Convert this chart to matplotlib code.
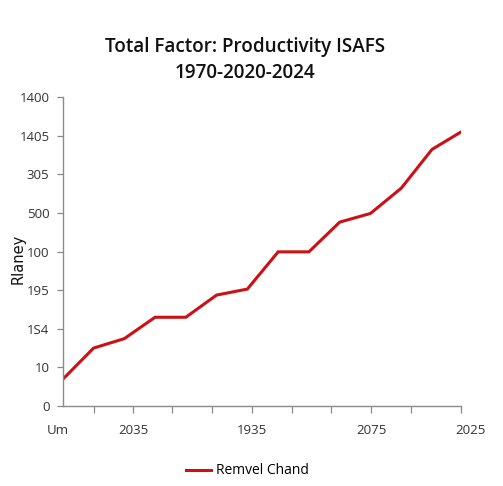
import matplotlib
matplotlib.use("Agg")
import matplotlib.pyplot as plt

# data
x_pos = list(range(14))
values = [13.8, 30.0, 34.9, 46.0, 46.0, 57.5, 60.6, 79.9, 79.9, 95.3, 99.8, 112.9, 133.0, 142.6]

y_ticks = [0, 20, 40, 60, 80, 100, 120, 140, 160]
y_labels = ["0", "10", "1S4", "195", "100", "500", "305", "1405", "1400"]

x_tick_marks = [1.01, 2.29, 3.56, 4.85, 6.14, 7.44, 8.72, 10.02, 11.33, 12.95]
x_label_pos = [-0.15, 2.29, 6.14, 10.02, 13.24]
x_labels = ["Um", "2035", "1935", "2075", "2025"]

series_name = "Remvel Chand"
title_lines = ["Total Factor: Productivity ISAFS", "1970-2020-2024"]

plt.rcParams["font.family"] = ["Open Sans", "DejaVu Sans"]

fig = plt.figure(figsize=(5.03, 4.86), dpi=100)
ax = fig.add_axes([0.1247, 0.1646, 0.917 - 0.1247, 0.7998 - 0.1646])

ax.plot(x_pos, values, color="#cc1016", linewidth=2.2, label=series_name,
        solid_joinstyle="miter")

ax.set_xlim(0, 12.95)
ax.set_ylim(0, 160)

for side in ("top", "right"):
    ax.spines[side].set_visible(False)
for side in ("left", "bottom"):
    ax.spines[side].set_color("#8a8a8a")
    ax.spines[side].set_linewidth(1.0)

ax.set_yticks(y_ticks)
ax.set_yticklabels(y_labels)
ax.tick_params(axis="y", length=4.5, width=0.9, color="#8a8a8a", pad=5,
               labelsize=9.5, labelcolor="#333333")

ax.set_xticks(x_tick_marks)
ax.set_xticklabels([])
ax.tick_params(axis="x", length=5, width=0.9, color="#8a8a8a")

for xp, lab in zip(x_label_pos, x_labels):
    ax.text(xp, -0.058, lab, transform=ax.get_xaxis_transform(), ha="center",
            va="top", fontsize=9.5, color="#333333", clip_on=False)

fig.text(18 / 503, 1 - 259 / 486, "Rlaney", rotation=90, ha="center", va="center",
         fontsize=10.5, color="#111111", family="DejaVu Sans", fontweight="medium")

fig.text(0.488, 1 - 52.3 / 486, title_lines[0], ha="center", va="baseline",
         fontsize=13.6, color="#111111", fontweight="semibold")
fig.text(0.488, 1 - 77.7 / 486, title_lines[1], ha="center", va="baseline",
         fontsize=13.6, color="#111111", fontweight="semibold")

fig.legend(loc="center", bbox_to_anchor=(0.492, 0.031), frameon=False,
           fontsize=10, handlelength=1.8, handletextpad=0.4)

fig.savefig("out.png", dpi=100)
